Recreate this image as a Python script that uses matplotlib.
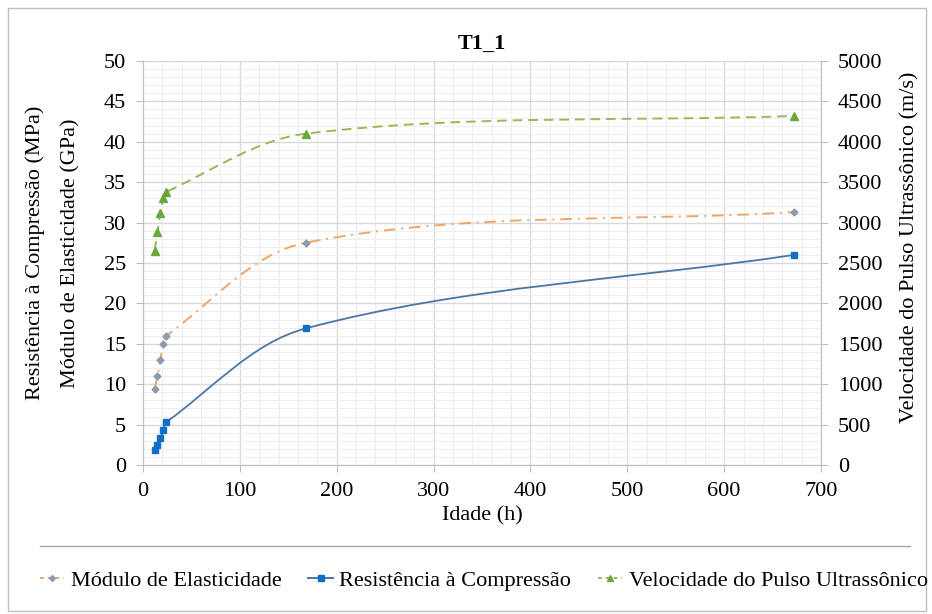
import numpy as np
import matplotlib.pyplot as plt
from matplotlib.path import Path
from matplotlib.patches import PathPatch, Rectangle
from matplotlib.lines import Line2D

plt.rcParams['font.family'] = ['Liberation Serif', 'DejaVu Serif']

# ensaios T1_1
idade = [12, 15, 18, 21, 24, 168, 672]                       # h
modulo = [9.4, 11.0, 13.0, 15.0, 16.0, 27.5, 31.3]            # GPa
resistencia = [1.8, 2.5, 3.3, 4.3, 5.3, 16.9, 26.0]          # MPa
velocidade = [2650, 2880, 3120, 3300, 3380, 4100, 4320]      # m/s

FS = 16

fig = plt.figure(figsize=(9.32, 6.14), dpi=100)
ax = fig.add_axes([0.1534, 0.2427, 0.7275, 0.658])
ax2 = ax.twinx()

ax.set_xlim(0, 700)
ax.set_ylim(0, 50)
ax2.set_ylim(0, 5000)


def curva_suave(axis, x, y, **kw):
    # linha suavizada: bezier com tangentes pelos vizinhos, calculada em pixels
    pts = axis.transData.transform(np.column_stack([x, y]))
    n = len(pts)
    tang = []
    for i in range(n):
        a = pts[max(i - 1, 0)]
        b = pts[min(i + 1, n - 1)]
        d = b - a
        tang.append(d / np.hypot(*d))
    verts = [pts[0]]
    codes = [Path.MOVETO]
    for i in range(n - 1):
        p1, p2 = pts[i], pts[i + 1]
        L = np.hypot(*(p2 - p1)) / 3.0
        verts += [p1 + tang[i] * L, p2 - tang[i + 1] * L, p2]
        codes += [Path.CURVE4] * 3
    verts = axis.transData.inverted().transform(np.array(verts))
    patch = PathPatch(Path(verts, codes), fill=False, transform=axis.transData, **kw)
    axis.add_patch(patch)


cor_mod_linha = '#f0a669'
cor_mod_marca = '#8e9aae'
cor_res_linha = '#4a76a8'
cor_res_marca = '#0f6fc6'
cor_vel_linha = '#97b95a'
cor_vel_marca = '#6aa83e'

curva_suave(ax, idade, modulo, edgecolor=cor_mod_linha, lw=1.4,
            linestyle=(0, (6, 3, 1, 3)), zorder=3)
ax.plot(idade, modulo, ls='none', marker='D', ms=3.5, color=cor_mod_marca, zorder=4)

curva_suave(ax, idade, resistencia, edgecolor=cor_res_linha, lw=1.3, zorder=3)
ax.plot(idade, resistencia, ls='none', marker='s', ms=5, color=cor_res_marca, zorder=4)

curva_suave(ax2, idade, velocidade, edgecolor=cor_vel_linha, lw=1.4,
            linestyle=(0, (5, 3)), zorder=3)
ax2.plot(idade, velocidade, ls='none', marker='^', ms=6, color=cor_vel_marca, zorder=4)

# grades
ax.set_xticks(np.arange(0, 701, 100))
ax.set_xticks(np.arange(0, 701, 20), minor=True)
ax.set_yticks(np.arange(0, 51, 5))
ax.set_yticks(np.arange(0, 51, 1), minor=True)
ax2.set_yticks(np.arange(0, 5001, 500))
ax.grid(which='major', color='#d9d9d9', lw=1.0)
ax.grid(which='minor', color='#eeeeee', lw=0.8)
ax.set_axisbelow(True)

for a in (ax, ax2):
    for s in a.spines.values():
        s.set_visible(False)
ax.spines['left'].set_visible(True)
ax.spines['bottom'].set_visible(True)
ax2.spines['right'].set_visible(True)
ax.spines['left'].set_color('#bfbfbf')
ax.spines['bottom'].set_color('#bfbfbf')
ax2.spines['right'].set_color('#bfbfbf')

ax.tick_params(which='major', direction='out', length=5, color='#bfbfbf',
               labelsize=FS, pad=7)
ax.tick_params(which='minor', length=0)
ax2.tick_params(which='major', direction='out', length=5, color='#bfbfbf',
                labelsize=FS, pad=7)

ax.set_title('T1_1', fontsize=FS, fontweight='bold', pad=9)
ax.set_xlabel('Idade (h)', fontsize=FS, labelpad=4)

# rotulos dos eixos verticais
fig.text(35 / 932, 1 - 253 / 614, 'Resistência à Compressão (MPa)', rotation=90,
         ha='center', va='center', fontsize=FS)
fig.text(71 / 932, 1 - 253 / 614, 'Módulo de Elasticidade (GPa)', rotation=90,
         ha='center', va='center', fontsize=FS)
fig.text(910 / 932, 1 - 247 / 614, 'Velocidade do Pulso Ultrassônico (m/s)',
         rotation=90, ha='center', va='center', fontsize=FS)

# moldura e separador da legenda
fig.patches.append(Rectangle((0.009, 0.005), 0.985, 0.982, transform=fig.transFigure,
                             fill=False, edgecolor='#bfbfbf', lw=1.0))
fig.lines.append(Line2D([40 / 932, 910 / 932], [1 - 546 / 614, 1 - 546 / 614],
                        transform=fig.transFigure, color='#a6a6a6', lw=1.0))

handles = [
    Line2D([], [], color=cor_mod_linha, lw=1.4, linestyle=(0, (2, 2)),
           marker='D', ms=3, mfc=cor_mod_marca, mec=cor_mod_marca),
    Line2D([], [], color=cor_res_linha, lw=1.4, marker='s', ms=4,
           mfc=cor_res_marca, mec=cor_res_marca),
    Line2D([], [], color=cor_vel_linha, lw=1.4, linestyle=(0, (2, 2)),
           marker='^', ms=4, mfc=cor_vel_marca, mec=cor_vel_marca),
]
labels = ['Módulo de Elasticidade', 'Resistência à Compressão',
          'Velocidade do Pulso Ultrassônico']
fig.legend(handles, labels, loc='center', bbox_to_anchor=(484 / 932, 1 - 581 / 614),
           ncol=3, frameon=False, fontsize=FS, handlelength=1.1, handletextpad=0.3,
           columnspacing=1.2)

fig.savefig('out.png', dpi=100)
